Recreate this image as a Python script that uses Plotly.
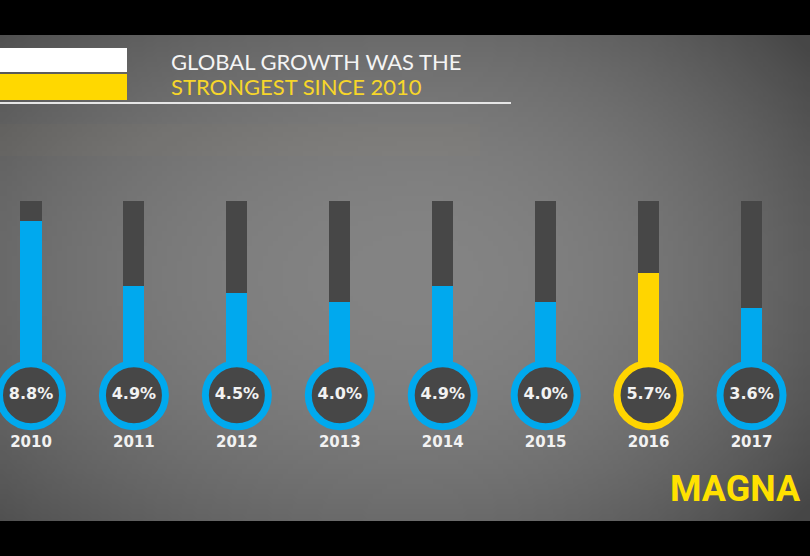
import base64
import struct
import zlib

import plotly.graph_objects as go

# ---------------- data ----------------
years = ["2010", "2011", "2012", "2013", "2014", "2015", "2016", "2017"]
growth = [8.8, 4.9, 4.5, 4.0, 4.9, 4.0, 5.7, 3.6]
pct_labels = ["8.8%", "4.9%", "4.5%", "4.0%", "4.9%", "4.0%", "5.7%", "3.6%"]
scale_max = 10
highlight_year = "2016"
title_line1 = "GLOBAL GROWTH WAS THE"
title_line2 = "STRONGEST SINCE 2010"
brand = "MAGNA"

# ---------------- style ----------------
W, H = 810, 556
BLUE = "#00A9EE"
YELLOW = "#FFD500"
DARK = "#474747"
BULB_Y = -1.6      # bulb centre in value units
YEAR_Y = -4.45     # year label row in value units
STEM_W = 0.205

colors = [YELLOW if y == highlight_year else BLUE for y in years]
xs = list(range(len(years)))


def gradient_png(w, h):
    rows = []
    cx, cy = 0.52, 0.50
    for j in range(h):
        row = bytearray([0])
        fy = j / (h - 1)
        for i in range(w):
            fx = i / (w - 1)
            dx = (fx - cx) / (cx if fx < cx else (1 - cx) * 0.82)
            dy = (fy - cy) / 0.45
            r2 = dx * dx + dy * dy
            v = int(max(70, min(132, 132 - 26 * r2)))
            row += bytes([v, v, v])
        rows.append(bytes(row))
    raw = b"".join(rows)

    def chunk(tag, data):
        c = struct.pack(">I", len(data)) + tag + data
        return c + struct.pack(">I", zlib.crc32(tag + data) & 0xFFFFFFFF)

    png = b"\x89PNG\r\n\x1a\n"
    png += chunk(b"IHDR", struct.pack(">IIBBBBB", w, h, 8, 2, 0, 0, 0))
    png += chunk(b"IDAT", zlib.compress(raw, 9))
    png += chunk(b"IEND", b"")
    return "data:image/png;base64," + base64.b64encode(png).decode()


fig = go.Figure()

# dark empty stems
fig.add_trace(go.Bar(
    x=xs, y=[scale_max - BULB_Y] * len(xs), base=[BULB_Y] * len(xs),
    width=STEM_W, marker=dict(color=DARK, line=dict(width=0)),
    hoverinfo="skip", showlegend=False))
# filled portion
fig.add_trace(go.Bar(
    x=xs, y=[g - BULB_Y for g in growth], base=[BULB_Y] * len(xs),
    width=STEM_W, marker=dict(color=colors, line=dict(width=0)),
    customdata=growth, hovertemplate="%{customdata}%<extra></extra>",
    showlegend=False))
# bulbs
fig.add_trace(go.Scatter(
    x=xs, y=[BULB_Y] * len(xs), mode="markers+text",
    marker=dict(size=63, color=DARK, line=dict(color=colors, width=7)),
    text=pct_labels, textposition="middle center",
    textfont=dict(family="DejaVu Sans", size=16, color="#F2F2F2", weight="bold"),
    hoverinfo="skip", showlegend=False, cliponaxis=False))
# year labels
fig.add_trace(go.Scatter(
    x=xs, y=[YEAR_Y] * len(xs), mode="text", text=years,
    textposition="middle center",
    textfont=dict(family="DejaVu Sans", size=15, color="#F2F2F2", weight="bold"),
    hoverinfo="skip", showlegend=False, cliponaxis=False))

px_per_x = 102.93
x0 = -31 / px_per_x
px_per_y = 16.75
y_top = 368.5 / px_per_y
y_bot = y_top - H / px_per_y


def py(p):
    return 1 - p / H


def pxx(p):
    return p / W


shapes = [
    # black letterbox bars
    dict(type="rect", xref="paper", yref="paper", x0=0, x1=1, y0=py(35), y1=1.01,
         fillcolor="black", line=dict(width=0), layer="above"),
    dict(type="rect", xref="paper", yref="paper", x0=0, x1=1, y0=-0.01, y1=py(521),
         fillcolor="black", line=dict(width=0), layer="above"),
    # title blocks
    dict(type="rect", xref="paper", yref="paper", x0=0, x1=pxx(127), y0=py(72), y1=py(48),
         fillcolor="white", line=dict(width=0)),
    dict(type="rect", xref="paper", yref="paper", x0=0, x1=pxx(127), y0=py(100), y1=py(74),
         fillcolor="#FFD800", line=dict(width=0)),
    dict(type="line", xref="paper", yref="paper", x0=0, x1=pxx(511), y0=py(103), y1=py(103),
         line=dict(color="#E6E6E6", width=2)),
    # faint yellow haze
    dict(type="rect", xref="paper", yref="paper", x0=pxx(0), x1=pxx(480), y0=py(156), y1=py(124),
         fillcolor="rgba(190,180,110,0.035)", line=dict(width=0)),
]

annotations = [
    dict(xref="paper", yref="paper", x=pxx(169), y=py(62), xanchor="left", yanchor="middle",
         text=title_line1, showarrow=False,
         font=dict(family="Lato", size=22, color="#F4F4F4")),
    dict(xref="paper", yref="paper", x=pxx(169), y=py(86), xanchor="left", yanchor="middle",
         text=title_line2, showarrow=False,
         font=dict(family="Lato", size=22, color="#F7D62A")),
    dict(xref="paper", yref="paper", x=pxx(803), y=py(489), xanchor="right", yanchor="middle",
         text=brand, showarrow=False,
         font=dict(family="Liberation Sans Narrow, Roboto, sans-serif",
                   size=36, color="#FFE100", weight="bold")),
]

fig.update_layout(
    width=W, height=H,
    margin=dict(l=0, r=0, t=0, b=0),
    paper_bgcolor="#717171", plot_bgcolor="rgba(0,0,0,0)",
    barmode="overlay", bargap=0,
    xaxis=dict(range=[x0, x0 + W / px_per_x], visible=False, fixedrange=True),
    yaxis=dict(range=[y_bot, y_top], visible=False, fixedrange=True),
    shapes=shapes, annotations=annotations,
    images=[dict(source=gradient_png(162, 112), xref="paper", yref="paper",
                 x=0, y=1, sizex=1, sizey=1, sizing="stretch", layer="below",
                 xanchor="left", yanchor="top")],
)

fig.write_html("out.html", config={"displayModeBar": False},
               post_script="document.body.style.margin='0';")
